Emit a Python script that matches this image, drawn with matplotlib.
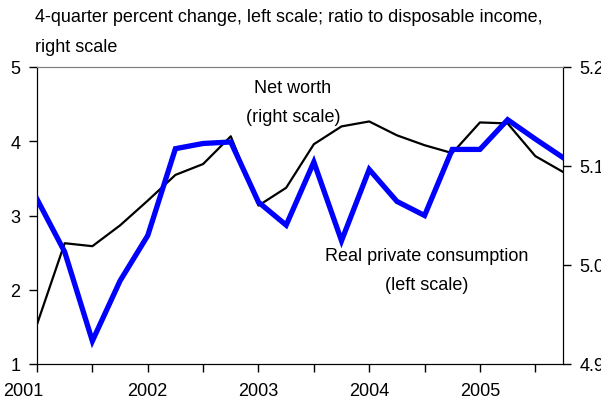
import numpy as np
import matplotlib.pyplot as plt
import matplotlib.transforms as mtransforms
from matplotlib.ticker import MultipleLocator

plt.rcParams['font.family'] = ['Liberation Sans', 'DejaVu Sans']

# quarterly data, 2001Q1 - 2005Q4
quarters = [2001 + 0.25 * i for i in range(20)]
consumption = [3.22, 2.51, 1.31, 2.12, 2.73, 3.90, 3.97, 3.99, 3.18, 2.87,
               3.72, 2.66, 3.62, 3.19, 3.00, 3.89, 3.89, 4.29, 4.03, 3.78]
net_worth = [4.940, 5.022, 5.019, 5.040, 5.065, 5.091, 5.102, 5.130, 5.060, 5.078,
             5.122, 5.140, 5.145, 5.131, 5.121, 5.113, 5.144, 5.143, 5.110, 5.094]
years = [2001, 2002, 2003, 2004, 2005]

fig = plt.figure(figsize=(6.01, 4.02), dpi=100)
ax = fig.add_axes([37/601, 37/402, 526/601, 297/402])
ax2 = ax.twinx()

ax2.plot(quarters, net_worth, color='black', lw=1.6, zorder=2)
ax.plot(quarters, consumption, color='#0000ff', lw=3.8, solid_joinstyle='miter', zorder=3)
ax.set_zorder(ax2.get_zorder() + 1)
ax.patch.set_visible(False)

ax.set_xlim(2001, 2005.75)
ax.set_ylim(1, 5)
ax2.set_ylim(4.9, 5.2)
ax.set_xticks(years)
ax.set_xticklabels([str(y) for y in years])
ax.xaxis.set_minor_locator(MultipleLocator(0.5))
ax.set_yticks([1, 2, 3, 4, 5])
ax2.set_yticks([4.9, 5.0, 5.1, 5.2])
ax2.set_yticklabels(['4.9', '5.0', '5.1', '5.2'])

for a in (ax, ax2):
    a.tick_params(axis='both', which='both', direction='out', length=6, width=1,
                  labelsize=13, colors='black')
    a.spines['top'].set_color('#808080')
    for s in ('left', 'right', 'bottom'):
        a.spines[s].set_color('black')
ax.tick_params(axis='x', which='minor', length=6)
ax.tick_params(axis='x', pad=7)
ax.tick_params(axis='y', pad=6)
ax2.tick_params(axis='y', pad=6)

# first year label sits a bit left, as in the original
lbl = ax.get_xticklabels()[0]
lbl.set_transform(lbl.get_transform() + mtransforms.ScaledTranslation(-0.14, 0, fig.dpi_scale_trans))

fig.text(35/601, 1 - 18/402, '4-quarter percent change, left scale; ratio to disposable income,',
         fontsize=13, va='center', ha='left')
fig.text(35/601, 1 - 47/402, 'right scale', fontsize=13, va='center', ha='left')

ax.text(2003.31, 4.73, 'Net worth', fontsize=13, ha='center', va='center')
ax.text(2003.31, 4.33, '(right scale)', fontsize=13, ha='center', va='center')
ax.text(2004.52, 2.46, 'Real private consumption', fontsize=13, ha='center', va='center')
ax.text(2004.52, 2.07, '(left scale)', fontsize=13, ha='center', va='center')

plt.savefig('out.png', dpi=100)
